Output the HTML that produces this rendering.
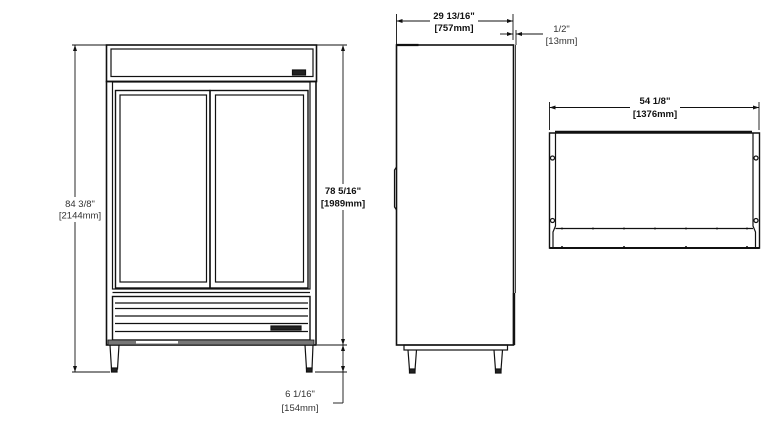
<!DOCTYPE html>
<html><head><meta charset="utf-8"><style>
html,body{margin:0;padding:0;background:#fff;}
svg{display:block;font-family:"Liberation Sans",sans-serif;}
</style></head><body>
<svg width="771" height="423" viewBox="0 0 771 423" xmlns="http://www.w3.org/2000/svg">
<g fill="none" stroke="#111" stroke-width="1.2">
<!-- FRONT VIEW -->
<rect x="106.5" y="45" width="210" height="36.5" stroke-width="1.6"/>
<rect x="111" y="49" width="202" height="27.5"/>
<rect x="292.5" y="70" width="13" height="5" fill="#222"/>
<rect x="106.5" y="81.5" width="209.5" height="263.5" stroke-width="1.6"/>
<rect x="112.5" y="82" width="197.5" height="207"/>
<rect x="115.5" y="90.5" width="94.5" height="197.5" stroke-width="1.4"/>
<rect x="120" y="95" width="86.5" height="187"/>
<rect x="210" y="90.5" width="98" height="197.5" stroke-width="1.4"/>
<rect x="215.5" y="95" width="88" height="187"/>
<line x1="112.5" y1="292.5" x2="310" y2="292.5"/>
<rect x="112.5" y="296.5" width="197.5" height="43.5" stroke-width="1.4"/>
<line x1="115" y1="303" x2="308" y2="303"/>
<line x1="115" y1="308.5" x2="308" y2="308.5"/>
<line x1="115" y1="316" x2="308" y2="316"/>
<line x1="115" y1="323.5" x2="308" y2="323.5"/>
<line x1="115" y1="331.5" x2="308" y2="331.5"/>
<rect x="271" y="326" width="30" height="4" fill="#222"/>
<rect x="108" y="340" width="206" height="5" fill="#777" stroke-width="0.8"/>
<rect x="136" y="341" width="42" height="2.5" fill="#fff" stroke="none"/>
<path d="M110 345 L111.5 369 L117.5 369 L119 345 M305 345 L306.5 369 L312 369 L313 345"/>
<rect x="111.5" y="368" width="5.5" height="4" fill="#222"/>
<rect x="306.5" y="368" width="5.5" height="4" fill="#222"/>
<!-- dims front -->
<g stroke-width="0.9">
<line x1="75" y1="45" x2="75" y2="372"/>
<line x1="72" y1="45" x2="106" y2="45"/>
<line x1="72" y1="372" x2="110" y2="372"/>
<line x1="343" y1="46" x2="343" y2="403"/>
<line x1="317" y1="45" x2="347" y2="45"/>
<line x1="317" y1="345" x2="347" y2="345"/>
<line x1="315" y1="372" x2="347" y2="372"/>
<line x1="333" y1="403" x2="343" y2="403"/>
</g>
<g fill="#111" stroke="none">
<path d="M75 45 l-2 6 h4z M75 372 l-2 -6 h4z M343 45 l-2 6 h4z M343 345 l-2 -6 h4z M343 345 l-2 6 h4z M343 372 l-2 -6 h4z"/>
</g>
<!-- SIDE VIEW -->
<rect x="396.5" y="45" width="117" height="300" stroke-width="1.6"/>
<path d="M396.5 45 h22" stroke-width="2.2"/>
<path d="M396.5 167 l-2 3 v37 l2 3"/>
<line x1="515.5" y1="45" x2="515.5" y2="293" stroke-width="0.8"/>
<line x1="514" y1="293" x2="514" y2="345" stroke-width="2.4"/>
<rect x="404" y="345" width="103.5" height="5"/>
<path d="M408 350 L409.5 370 L415 370 L416.5 350 M494 350 L495.5 370 L501 370 L502.5 350"/>
<rect x="409.5" y="369" width="5.5" height="4" fill="#222"/>
<rect x="495.5" y="369" width="5.5" height="4" fill="#222"/>
<g stroke-width="0.9">
<line x1="396.5" y1="14" x2="396.5" y2="45"/>
<line x1="513" y1="14" x2="513" y2="40"/>
<line x1="396.5" y1="21" x2="430" y2="21"/>
<line x1="478" y1="21" x2="513" y2="21"/>
<line x1="500" y1="34" x2="513" y2="34"/>
<line x1="516" y1="34" x2="543" y2="34"/>
<line x1="516" y1="30" x2="516" y2="45"/>
<!-- TOP VIEW dims -->
<line x1="549.5" y1="102" x2="549.5" y2="130"/>
<line x1="759" y1="102" x2="759" y2="130"/>
<line x1="549.5" y1="107.5" x2="630" y2="107.5"/>
<line x1="680" y1="107.5" x2="759" y2="107.5"/>
</g>
<g fill="#111" stroke="none">
<path d="M396.5 21 l6 -2 v4z M513 21 l-6 -2 v4z M513 34 l-6 -2 v4z M516 34 l6 -2 v4z M549.5 107.5 l6 -2 v4z M759 107.5 l-6 -2 v4z"/>
</g>
<!-- TOP VIEW -->
<path d="M549.5 248 V133 H759.5 V248 Z" stroke-width="1.4"/>
<line x1="555" y1="132" x2="752" y2="132" stroke-width="2.4"/>
<path d="M555.5 133 V226 L553 232 V247 M753 133 V226 L755.5 232 V247"/>
<line x1="555.5" y1="228.5" x2="753" y2="228.5"/>
<line x1="549.5" y1="248" x2="759.5" y2="248" stroke-width="2"/>
<circle cx="552.5" cy="158" r="2"/><circle cx="552.5" cy="220.5" r="2"/>
<circle cx="756" cy="158" r="2"/><circle cx="756" cy="220.5" r="2"/>
</g>
<g fill="#111">
<circle cx="562" cy="228.5" r="1"/><circle cx="593" cy="228.5" r="1"/><circle cx="624" cy="228.5" r="1"/><circle cx="655" cy="228.5" r="1"/><circle cx="686" cy="228.5" r="1"/><circle cx="717" cy="228.5" r="1"/><circle cx="747" cy="228.5" r="1"/>
<circle cx="562" cy="247" r="1"/><circle cx="624" cy="247" r="1"/><circle cx="686" cy="247" r="1"/><circle cx="747" cy="247" r="1"/>
</g>
<!-- text backgrounds (gaps in dimension lines) -->
<g fill="#fff">
<rect x="56" y="197" width="46" height="25"/>
<rect x="318" y="184" width="50" height="26"/>
</g>
<!-- TEXT -->
<g font-size="9.5" fill="#333" text-anchor="middle">
<text x="80" y="207">84 3/8"</text>
<text x="80" y="218.5">[2144mm]</text>
<text x="300" y="397">6 1/16"</text>
<text x="300" y="411">[154mm]</text>
<text x="561.5" y="32">1/2"</text>
<text x="561.5" y="44">[13mm]</text>
</g>
<g font-size="9.5" fill="#111" text-anchor="middle" font-weight="bold">
<text x="343" y="194">78 5/16"</text>
<text x="343" y="206.5">[1989mm]</text>
<text x="454" y="19">29 13/16"</text>
<text x="454" y="31">[757mm]</text>
<text x="655" y="104">54 1/8"</text>
<text x="655" y="117">[1376mm]</text>
</g>
</svg>
</body></html>
